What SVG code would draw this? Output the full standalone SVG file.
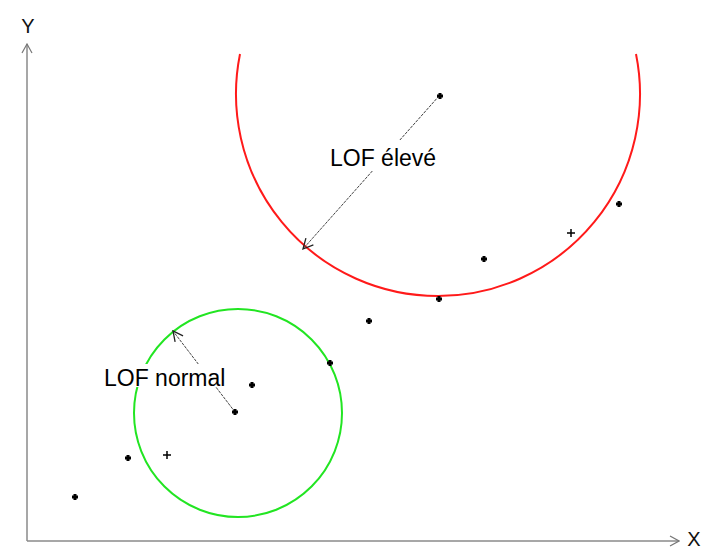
<svg xmlns="http://www.w3.org/2000/svg" width="704" height="550" viewBox="0 0 704 550">
<style>
.axis{stroke:#8a8a8a;stroke-width:1.5;fill:none}
.ptr{stroke:#444;stroke-width:1;fill:none}
.lbl{font-family:"Liberation Sans",Arial,sans-serif;font-size:23px;fill:#000}
.ax{font-family:"Liberation Sans",Arial,sans-serif;font-size:20px;fill:#111}
</style>
<defs>
<marker id="open" viewBox="0 0 12 12" refX="11" refY="6" markerWidth="12" markerHeight="12" markerUnits="userSpaceOnUse" orient="auto">
<path d="M1,1 L11,6 L1,11" fill="none" stroke="#222" stroke-width="1.3"/>
</marker>
<marker id="axhead" viewBox="0 0 12 12" refX="11" refY="6" markerWidth="12" markerHeight="12" markerUnits="userSpaceOnUse" orient="auto">
<path d="M2,1 L11,6 L2,11" fill="none" stroke="#777" stroke-width="1.2"/>
</marker>
<path id="dot" d="M-1.5,-3 h3 v1.5 h1.5 v3 h-1.5 v1.5 h-3 v-1.5 h-1.5 v-3 h1.5 z"/>
<path id="plus" d="M-4,-0.75 h3.25 v-3.25 h1.5 v3.25 h3.25 v1.5 h-3.25 v3.25 h-1.5 v-3.25 h-3.25 z"/>
</defs>
<rect width="704" height="550" fill="#fff"/>
<g id="axes">
<line class="axis" x1="27" y1="541" x2="27" y2="44" marker-end="url(#axhead)"/>
<line class="axis" x1="27" y1="541" x2="679" y2="541" marker-end="url(#axhead)"/>
<text class="ax" x="28" y="33" text-anchor="middle">Y</text>
<text class="ax" x="694" y="546" text-anchor="middle">X</text>
</g>
<g id="red-circle">
<path d="M240,54 A202,202 0 1 0 636,54" fill="none" stroke="#ff1a1a" stroke-width="2"/>
</g>
<g id="green-circle">
<circle cx="238" cy="413" r="104" fill="none" stroke="#22e522" stroke-width="2"/>
</g>
<g id="connectors">
<line class="ptr" x1="439" y1="96" x2="303" y2="249" marker-end="url(#open)" stroke-dasharray="3,1"/>
<line class="ptr" x1="235" y1="412" x2="173" y2="331" marker-end="url(#open)" stroke-dasharray="3,1"/>
</g>
<g id="label-high">
<rect x="328" y="140" width="116" height="31" fill="#fff"/>
<text class="lbl" x="330" y="166">LOF élevé</text>
</g>
<g id="label-normal">
<rect x="102" y="364" width="130" height="23" fill="#fff"/>
<text class="lbl" x="104" y="386">LOF normal</text>
</g>
<g id="points">
<use href="#dot" x="440" y="96"/>
<use href="#dot" x="75" y="497"/>
<use href="#dot" x="128" y="458"/>
<use href="#plus" x="167" y="455"/>
<use href="#dot" x="235" y="412"/>
<use href="#dot" x="252" y="385"/>
<use href="#dot" x="330" y="363"/>
<use href="#dot" x="369" y="321"/>
<use href="#dot" x="439" y="299"/>
<use href="#dot" x="484" y="259"/>
<use href="#plus" x="571" y="233"/>
<use href="#dot" x="619" y="204"/>
</g>
</svg>
